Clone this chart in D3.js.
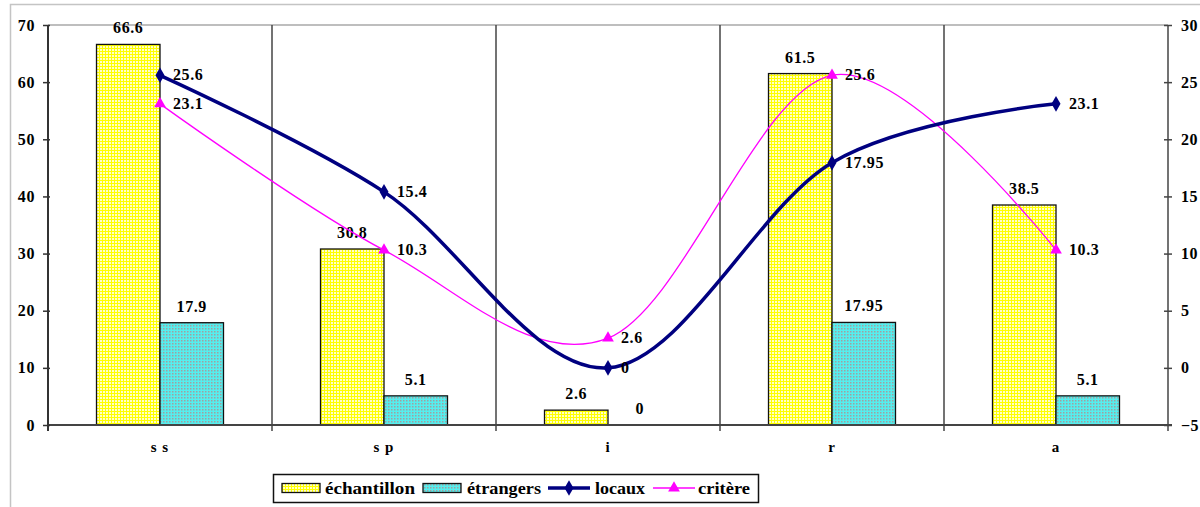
<!DOCTYPE html>
<html><head><meta charset="utf-8">
<script src="https://cdn.jsdelivr.net/npm/d3@7"></script>
<style>
html,body{margin:0;padding:0;background:#fff;}
</style></head>
<body><svg id="c" width="1200" height="507"></svg>
<script>
const categories = ["s s", "s p", "i", "r", "a"];
const echantillon = [66.6, 30.8, 2.6, 61.5, 38.5];
const etrangers = [17.9, 5.1, 0, 17.95, 5.1];
const locaux = [25.6, 15.4, 0, 17.95, 23.1];
const critere = [23.1, 10.3, 2.6, 25.6, 10.3];
const leftTicks = [0, 10, 20, 30, 40, 50, 60, 70];
const rightTicks = [-5, 0, 5, 10, 15, 20, 25, 30];
const barSeries = ["échantillon", "étrangers"];
const lineSeries = ["locaux", "critère"];

const FONT = "Liberation Serif";
const svg = d3.select("#c");
const L = 48, R = 1168, T = 25, B = 425;

function styleText(sel, size, ls) {
  sel.attr("font-family", FONT).attr("font-weight","bold").attr("font-size", size)
     .attr("fill","#000").attr("letter-spacing", ls || 0);
  return sel;
}

// patterns
const defs = svg.append("defs");
const py = defs.append("pattern").attr("id","pY").attr("width",3).attr("height",3).attr("patternUnits","userSpaceOnUse");
py.append("rect").attr("width",3).attr("height",3).attr("fill","#ffff00");
py.append("rect").attr("x",1).attr("y",1).attr("width",2).attr("height",2).attr("fill","#ffffc8");
const pc = defs.append("pattern").attr("id","pC").attr("width",3).attr("height",3).attr("patternUnits","userSpaceOnUse");
pc.append("rect").attr("width",3).attr("height",3).attr("fill","#55eeee");
pc.append("rect").attr("x",1).attr("y",1).attr("width",1.5).attr("height",1.5).attr("fill","#a0a0a0");
const fills = ["url(#pY)", "url(#pC)"];

// outer frame
svg.append("rect").attr("x",10.5).attr("y",4.5).attr("width",1300).attr("height",600)
  .attr("fill","none").attr("stroke","#c4c4c4").attr("stroke-width",1.5);

const x = d3.scaleBand().domain(categories).range([L, R]).padding(0);
const xs = d3.scaleBand().domain(barSeries).range([0, x.bandwidth()]).paddingInner(0).paddingOuter(0.764);
const yl = d3.scaleLinear().domain([0, 70]).range([B, T]);
const yr = d3.scaleLinear().domain([-5, 30]).range([B, T]);

// top border
svg.append("line").attr("x1",L).attr("x2",R).attr("y1",T).attr("y2",T).attr("stroke","#a8a8a8").attr("stroke-width",1.5);

// vertical separators
const bounds = categories.slice(1).map(c => x(c));
svg.selectAll(".sep").data(bounds).join("line")
  .attr("x1",d=>d).attr("x2",d=>d).attr("y1",T).attr("y2",B+6)
  .attr("stroke","#444").attr("stroke-width",1.5);

// bars
const barData = [echantillon, etrangers];
barData.forEach((arr, si) => {
  const g = svg.append("g");
  g.selectAll("rect").data(arr).join("rect")
    .attr("x",(d,i)=>x(categories[i]) + xs(barSeries[si]))
    .attr("y",d=>yl(d))
    .attr("width",xs.bandwidth())
    .attr("height",d=>B - yl(d))
    .attr("fill",fills[si]).attr("stroke","#111").attr("stroke-width",1.3);
  styleText(g.selectAll("text").data(arr).join("text")
    .attr("x",(d,i)=>x(categories[i]) + xs(barSeries[si]) + xs.bandwidth()/2)
    .attr("y",d=>yl(d) - 11)
    .attr("text-anchor","middle"), 16, 0.6)
    .text(d=>d);
});

// axes
svg.append("line").attr("x1",L).attr("x2",R+4).attr("y1",B).attr("y2",B).attr("stroke","#444").attr("stroke-width",2);
const axL = svg.append("g").attr("transform",`translate(${L},0)`)
  .call(d3.axisLeft(yl).tickValues(leftTicks).tickSizeInner(5).tickSizeOuter(0).tickPadding(8));
axL.select(".domain").attr("stroke","#333").attr("stroke-width",2).attr("d",`M0,${T}V${B+6}`);
axL.selectAll(".tick line").attr("x1",2).attr("stroke","#333").attr("stroke-width",1.5);
styleText(axL.selectAll(".tick text"), 16, 0.6);
const axR = svg.append("g").attr("transform",`translate(${R},0)`)
  .call(d3.axisRight(yr).tickValues(rightTicks).tickSizeInner(4).tickSizeOuter(0).tickPadding(9));
axR.select(".domain").attr("stroke","#444").attr("stroke-width",1.5).attr("d",`M0,${T}V${B+6}`);
axR.selectAll(".tick line").attr("x1",-4).attr("stroke","#444").attr("stroke-width",1.5);
styleText(axR.selectAll(".tick text"), 16, 0.4);

// category labels
const axB = svg.append("g").attr("transform",`translate(0,${B})`)
  .call(d3.axisBottom(x).tickSize(0).tickPadding(16));
axB.select(".domain").remove();
styleText(axB.selectAll(".tick text"), 15, 1);

// lines
const curve = d3.curveCardinal.tension(0);
const cx = i => x(categories[i]) + x.bandwidth()/2;
const lineGen = d3.line().x((d,i)=>cx(i)).y(d=>yr(d)).curve(curve);
const lineCfg = [
  {data: locaux, color:"#000080", w:3.5, sym:d3.symbolDiamond, size:70},
  {data: critere, color:"#ff00ff", w:1.3, sym:d3.symbolTriangle, size:60}
];
[lineCfg[1], lineCfg[0]].forEach(cfg => {
  svg.append("path").attr("d", lineGen(cfg.data)).attr("fill","none")
    .attr("stroke",cfg.color).attr("stroke-width",cfg.w);
  svg.append("g").selectAll("path").data(cfg.data).join("path")
    .attr("transform",(d,i)=>`translate(${cx(i)},${yr(d)})`)
    .attr("d", d3.symbol().type(cfg.sym).size(cfg.size)).attr("fill",cfg.color);
  styleText(svg.append("g").selectAll("text").data(cfg.data).join("text")
    .attr("x",(d,i)=>cx(i)+13).attr("y",d=>yr(d)+5), 16, 0.6).text(d=>d);
});

// legend
const lg = svg.append("g");
lg.append("rect").attr("x",273.5).attr("y",474.5).attr("width",485).attr("height",28)
  .attr("fill","#fff").attr("stroke","#111").attr("stroke-width",1.5);
const legendItems = [
  {name: barSeries[0], type:"bar", fill:fills[0], sx:282, tx:325, tw:90},
  {name: barSeries[1], type:"bar", fill:fills[1], sx:423, tx:467, tw:74},
  {name: lineSeries[0], type:"line", cfg:lineCfg[0], sx:548, tx:595, tw:50},
  {name: lineSeries[1], type:"line", cfg:lineCfg[1], sx:653, tx:698, tw:52}
];
legendItems.forEach(it => {
  if (it.type === "bar") {
    lg.append("rect").attr("x",it.sx).attr("y",483.5).attr("width",38).attr("height",9)
      .attr("fill",it.fill).attr("stroke","#111").attr("stroke-width",1.3);
  } else {
    lg.append("line").attr("x1",it.sx).attr("x2",it.sx+42).attr("y1",488).attr("y2",488)
      .attr("stroke",it.cfg.color).attr("stroke-width",it.cfg.w);
    lg.append("path").attr("transform",`translate(${it.sx+21},488)`)
      .attr("d", d3.symbol().type(it.cfg.sym).size(it.cfg.size)).attr("fill",it.cfg.color);
  }
  styleText(lg.append("text").attr("x",it.tx).attr("y",494), 17)
    .attr("textLength",it.tw).attr("lengthAdjust","spacingAndGlyphs").text(it.name);
});
</script></body></html>
